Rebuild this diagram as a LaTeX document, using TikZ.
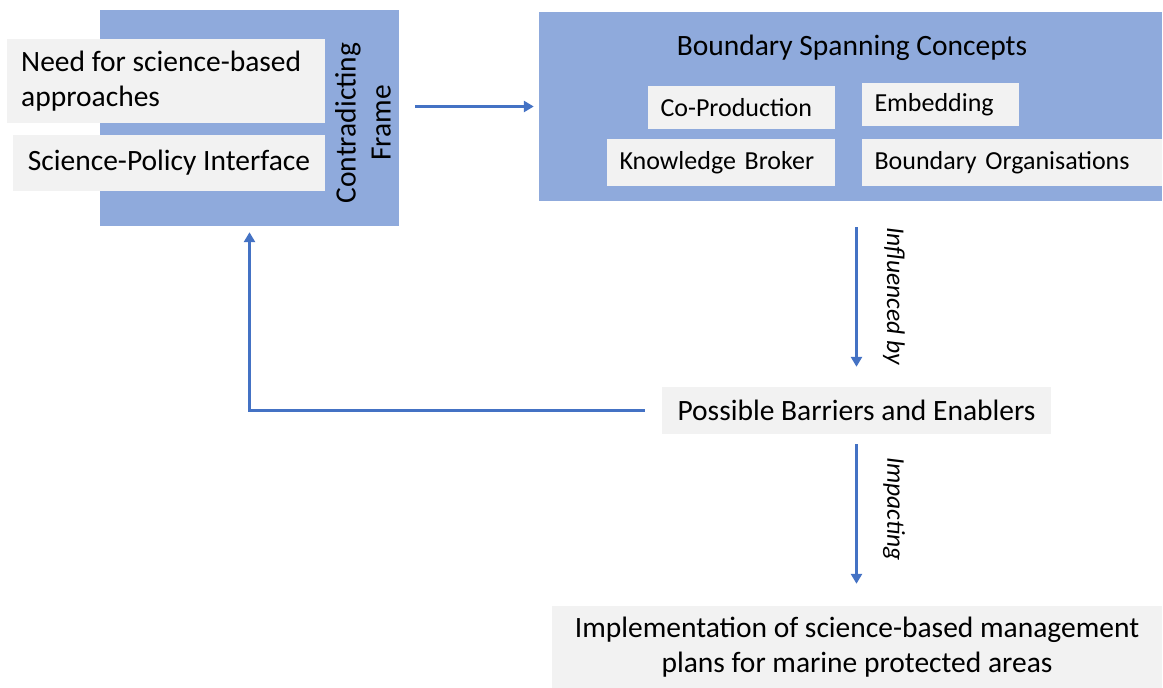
\documentclass[tikz,border=0pt]{standalone}
\usepackage{fontspec}
\setmainfont{Carlito}
\usetikzlibrary{arrows.meta}
\definecolor{boxblue}{HTML}{8FAADC}
\definecolor{boxgray}{HTML}{F2F2F2}
\definecolor{arrblue}{HTML}{4472C4}
\begin{document}
\begin{tikzpicture}[x=1pt,y=-1pt,
  bluebox/.style={fill=boxblue,draw=none,inner sep=0pt,rectangle},
  graybox/.style={fill=boxgray,draw=none,inner sep=0pt,rectangle,align=center},
  concept/.style={fill=boxgray,draw=none,rectangle,inner xsep=12.5pt,inner ysep=0pt,
    align=left,font=\fontsize{26}{31}\selectfont},
  bigtxt/.style={font=\fontsize{29.5}{35}\selectfont},
  arr/.style={draw=arrblue,line width=3pt,-{Triangle[length=10pt,width=11pt]}},
  lbl/.style={font=\fontsize{25.5}{30}\selectfont\itshape,inner sep=0pt}]
\useasboundingbox (0,0) rectangle (1163,688);
% left block
\node[bluebox,minimum width=299pt,minimum height=216pt] (L) at (249.5,118) {};
\node[graybox,minimum width=318pt,minimum height=84pt] (need) at (166,81) {};
\node[bigtxt,align=left,anchor=west,inner sep=0pt] (needtxt) at (21,81) {Need for science-based\\approaches};
\node[graybox,bigtxt,minimum width=312pt,minimum height=56pt] (spi) at (169,163) {Science-Policy Interface};
\node[bigtxt,rotate=90,align=center,inner sep=0pt] (cf) at (363,123) {Contradicting\\Frame};
% right block
\node[bluebox,minimum width=623pt,minimum height=189pt] (R) at (850.5,106.5) {};
\node[bigtxt,inner sep=0pt] (bsc) at (852,48) {Boundary Spanning Concepts};
\node[concept,text width=162pt,minimum height=43pt] (cop) at (741.5,107.5) {Co-Production};
\node[concept,text width=132pt,minimum height=43pt] (emb) at (940.5,104.5) {Embedding};
\node[concept,text width=203pt,minimum height=47pt] (kb) at (721,162.5) {Knowledge Broker};
\node[concept,text width=275pt,minimum height=47pt] (bo) at (1012,162.5) {Boundary Organisations};
% barriers
\node[graybox,bigtxt,minimum width=389pt,minimum height=47pt] (B) at (856.5,410.5) {Possible Barriers and Enablers};
% implementation
\node[graybox,bigtxt,minimum width=610pt,minimum height=82pt] (I) at (857,647) {Implementation of science-based management\\plans for marine protected areas};
% connectors
\draw[arr] ([xshift=16pt]L.east |- R.west) -- ([xshift=-5pt]R.west);
\draw[arr] ([yshift=-26pt]R.south -| B.north) -- ([yshift=20pt]B.north);
\node[lbl,rotate=-90] (inf) at (894,296) {Influenced by};
\draw[arr] ([xshift=-17pt]B.west) -| ([yshift=-6pt]L.south);
\draw[arr] ([yshift=-10pt]B.south) -- ([yshift=22pt]I.north -| B.south);
\node[lbl,rotate=-90] (imp) at (894,509) {Impacting};
\end{tikzpicture}
\end{document}
